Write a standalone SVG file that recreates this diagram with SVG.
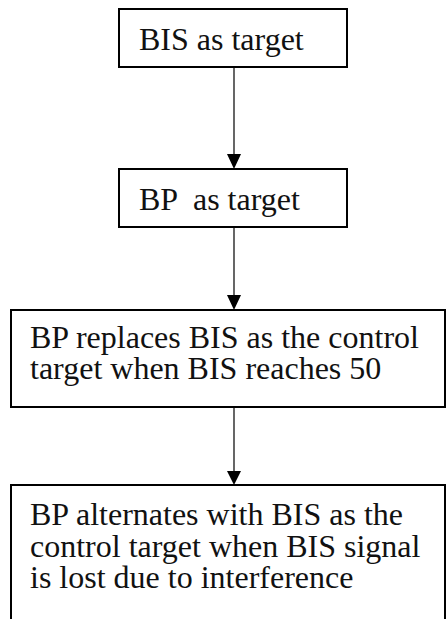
<svg xmlns="http://www.w3.org/2000/svg" width="446" height="619" viewBox="0 0 446 619">
  <style>
    .box { fill: #ffffff; stroke: #000000; stroke-width: 2; }
    .conn { stroke: #000000; stroke-width: 1.2; fill: none; }
    .head { fill: #000000; }
    text { font-family: 'Liberation Serif', 'Times New Roman', Times, serif; font-size: 32px; fill: #111111; }
  </style>
  <rect x="0" y="0" width="446" height="619" fill="#ffffff"/>

  <g id="connectors">
    <line class="conn" x1="234" y1="68" x2="234" y2="156"/>
    <polygon class="head" points="227,154 241,154 234,169"/>
    <line class="conn" x1="234" y1="228" x2="234" y2="297"/>
    <polygon class="head" points="227,295 241,295 234,310"/>
    <line class="conn" x1="234" y1="408" x2="234" y2="473"/>
    <polygon class="head" points="227,471 241,471 234,485"/>
  </g>

  <g id="node-bis-target">
    <rect class="box" x="119" y="9" width="228" height="58"/>
    <text x="139" y="50">BIS as target</text>
  </g>

  <g id="node-bp-target">
    <rect class="box" x="119" y="169" width="228" height="58"/>
    <text x="139" y="210" xml:space="preserve">BP  as target</text>
  </g>

  <g id="node-bp-replaces">
    <rect class="box" x="11" y="310" width="434" height="97"/>
    <text x="30" y="348">BP replaces BIS as the control<tspan x="30" dy="31">target when BIS reaches 50</tspan></text>
  </g>

  <g id="node-bp-alternates">
    <rect class="box" x="11" y="485" width="434" height="150"/>
    <text x="30" y="525">BP alternates with BIS as the<tspan x="30" dy="32">control target when BIS signal</tspan><tspan x="30" dy="31">is lost due to interference</tspan></text>
  </g>
</svg>
